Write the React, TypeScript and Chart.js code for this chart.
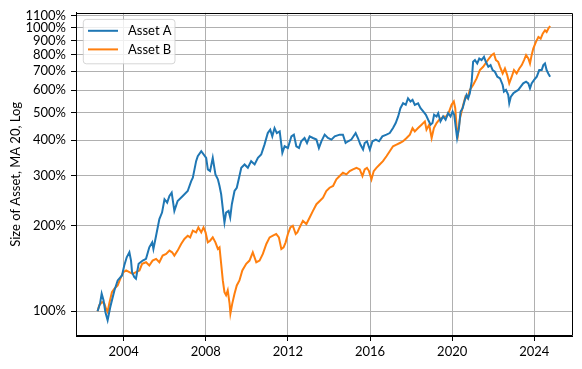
import React, { useEffect, useRef } from "react";
import { Chart, registerables } from "chart.js";

Chart.register(...registerables);

const seriesNames = ["Asset A", "Asset B"];
const seriesColors = ["#1f77b4", "#ff7f0e"];
const yAxisTitle = "Size of Asset, MA 20, Log";
const xTickYears = [2004, 2008, 2012, 2016, 2020, 2024];
const yTickValues = [100, 200, 300, 400, 500, 600, 700, 800, 900, 1000, 1100];

const yearsA = [
  2002.73, 2002.85, 2002.93, 2003.02, 2003.11, 2003.22, 2003.35, 2003.55, 2003.71, 2003.92,
  2004.03, 2004.15, 2004.28, 2004.36, 2004.41, 2004.52, 2004.6, 2004.73, 2004.93, 2005.09,
  2005.25, 2005.39, 2005.45, 2005.58, 2005.74, 2005.87, 2005.99, 2006.12, 2006.23, 2006.34,
  2006.47, 2006.63, 2006.88, 2007.12, 2007.29, 2007.37, 2007.53, 2007.61, 2007.78, 2008.02,
  2008.1, 2008.21, 2008.34, 2008.47, 2008.59, 2008.67, 2008.75, 2008.86, 2008.91, 2008.99,
  2009.11, 2009.19, 2009.27, 2009.4, 2009.51, 2009.64, 2009.73, 2009.89, 2010.05, 2010.21,
  2010.38, 2010.54, 2010.7, 2010.86, 2011.02, 2011.14, 2011.24, 2011.35, 2011.46, 2011.6,
  2011.73, 2011.84, 2012.0, 2012.17, 2012.29, 2012.41, 2012.54, 2012.65, 2012.81, 2012.93,
  2013.06, 2013.22, 2013.39, 2013.51, 2013.63, 2013.79, 2013.95, 2014.12, 2014.28, 2014.52,
  2014.68, 2014.81, 2014.93, 2015.09, 2015.3, 2015.41, 2015.53, 2015.66, 2015.74, 2015.85,
  2015.99, 2016.12, 2016.28, 2016.44, 2016.6, 2016.8, 2016.96, 2017.12, 2017.25, 2017.37,
  2017.48, 2017.61, 2017.74, 2017.85, 2017.97, 2018.07, 2018.18, 2018.34, 2018.46, 2018.59,
  2018.72, 2018.83, 2018.95, 2019.04, 2019.12, 2019.24, 2019.32, 2019.43, 2019.56, 2019.68,
  2019.8, 2019.92, 2020.02, 2020.1, 2020.18, 2020.24, 2020.33, 2020.41, 2020.51, 2020.62,
  2020.7, 2020.78, 2020.86, 2020.95, 2021.02, 2021.11, 2021.22, 2021.32, 2021.43, 2021.55,
  2021.64, 2021.76, 2021.87, 2021.97, 2022.08, 2022.2, 2022.33, 2022.46, 2022.52, 2022.62,
  2022.73, 2022.78, 2022.86, 2022.98, 2023.09, 2023.22, 2023.34, 2023.46, 2023.6, 2023.71,
  2023.79, 2023.87, 2023.99, 2024.12, 2024.24, 2024.36, 2024.44, 2024.52, 2024.6, 2024.68,
  2024.77,
];

const valuesA = [
  100, 106.4, 115.3, 109.3, 99.4, 93.0, 103.5, 118.4, 128.4, 133.7,
  144.9, 154.9, 161.3, 150.8, 137.3, 131.8, 130.2, 146.9, 150.8, 152.9,
  167.9, 174.8, 165.7, 184.5, 211.1, 222.6, 248.0, 241.3, 254.7, 261.6,
  225.7, 244.6, 254.7, 265.2, 287.4, 295.2, 337.7, 351.6, 366.0, 346.8,
  315.9, 311.6, 346.8, 303.4, 291.4, 276.1, 258.2, 219.8, 205.4, 222.6,
  225.7, 213.8, 238.2, 265.2, 272.3, 299.3, 320.0, 328.8, 320.0, 337.7,
  328.8, 346.8, 356.4, 386.3, 424.2, 436.0, 413.1, 441.7, 424.2, 430.1,
  361.1, 381.1, 375.9, 413.1, 418.8, 381.1, 375.9, 396.8, 407.5, 391.4,
  413.1, 407.5, 402.3, 375.9, 396.8, 418.8, 407.5, 402.3, 413.1, 418.8,
  418.8, 391.4, 396.8, 402.3, 424.2, 407.5, 386.3, 371.1, 391.4, 396.8,
  371.1, 396.8, 402.3, 396.8, 413.1, 418.8, 424.2, 441.7, 459.9, 485.3,
  518.9, 540.3, 533.3, 562.5, 547.7, 555.3, 533.3, 540.3, 518.9, 505.3,
  492.0, 472.6, 453.9, 459.9, 492.0, 485.3, 498.4, 466.2, 485.3, 472.6,
  498.4, 485.3, 505.3, 492.0, 441.7, 407.5, 441.7, 505.3, 518.9, 555.3,
  578.1, 562.5, 585.6, 643.5, 756.1, 766.5, 745.8, 776.5, 766.5, 787.2,
  756.1, 726.2, 736.2, 707.2, 697.6, 670.0, 660.9, 626.6, 593.7, 601.9,
  578.1, 540.3, 570.3, 585.6, 593.7, 601.9, 618.1, 634.8, 643.5, 634.8,
  609.7, 634.8, 652.4, 670.0, 707.2, 707.2, 736.2, 745.8, 707.2, 688.1,
  670.0,
];

const yearsB = [
  2002.73, 2002.81, 2002.95, 2003.06, 2003.14, 2003.22, 2003.3, 2003.43, 2003.55, 2003.71,
  2003.87, 2003.99, 2004.12, 2004.28, 2004.44, 2004.6, 2004.77, 2004.9, 2005.09, 2005.25,
  2005.41, 2005.58, 2005.74, 2005.9, 2006.07, 2006.23, 2006.36, 2006.47, 2006.63, 2006.8,
  2006.96, 2007.12, 2007.24, 2007.37, 2007.53, 2007.64, 2007.78, 2007.89, 2007.99, 2008.1,
  2008.21, 2008.34, 2008.47, 2008.59, 2008.67, 2008.75, 2008.83, 2008.91, 2008.99, 2009.07,
  2009.16, 2009.2, 2009.29, 2009.4, 2009.51, 2009.64, 2009.78, 2009.97, 2010.13, 2010.29,
  2010.46, 2010.62, 2010.78, 2010.95, 2011.11, 2011.27, 2011.43, 2011.56, 2011.68, 2011.79,
  2011.89, 2012.0, 2012.12, 2012.24, 2012.38, 2012.46, 2012.57, 2012.73, 2012.9, 2013.06,
  2013.22, 2013.39, 2013.55, 2013.71, 2013.87, 2014.03, 2014.2, 2014.36, 2014.52, 2014.68,
  2014.85, 2015.01, 2015.17, 2015.34, 2015.5, 2015.63, 2015.74, 2015.85, 2015.95, 2016.07,
  2016.18, 2016.31, 2016.47, 2016.63, 2016.8, 2016.96, 2017.12, 2017.29, 2017.45, 2017.61,
  2017.78, 2017.94, 2018.07, 2018.18, 2018.34, 2018.51, 2018.67, 2018.75, 2018.88, 2019.0,
  2019.11, 2019.24, 2019.37, 2019.48, 2019.6, 2019.73, 2019.85, 2019.97, 2020.08, 2020.15,
  2020.22, 2020.28, 2020.38, 2020.46, 2020.54, 2020.65, 2020.75, 2020.86, 2021.02, 2021.19,
  2021.35, 2021.51, 2021.68, 2021.79, 2021.92, 2022.03, 2022.13, 2022.24, 2022.33, 2022.46,
  2022.57, 2022.68, 2022.78, 2022.9, 2023.01, 2023.14, 2023.27, 2023.39, 2023.5, 2023.6,
  2023.71, 2023.79, 2023.87, 2023.95, 2024.08, 2024.2, 2024.31, 2024.41, 2024.52, 2024.6,
  2024.68, 2024.77,
];

const valuesB = [
  100, 105.0, 107.8, 106.4, 102.2, 99.4, 106.4, 116.8, 120.1, 123.3,
  131.8, 137.3, 139.2, 137.3, 135.5, 137.3, 139.2, 146.9, 148.8, 144.9,
  150.8, 152.9, 148.8, 157.0, 159.2, 163.5, 161.3, 157.0, 163.5, 172.6,
  179.7, 184.5, 182.0, 192.1, 189.5, 197.3, 189.5, 197.3, 189.5, 174.8,
  177.2, 182.0, 174.8, 165.7, 167.9, 146.9, 128.4, 116.8, 113.8, 118.4,
  106.4, 98.2, 106.4, 115.3, 123.3, 128.4, 139.2, 146.9, 150.8, 161.3,
  148.8, 150.8, 159.2, 172.6, 182.0, 184.5, 187.1, 182.0, 165.7, 167.9,
  174.8, 187.1, 197.3, 200.0, 187.1, 189.5, 197.3, 208.2, 202.8, 213.8,
  225.7, 238.2, 244.6, 251.2, 265.2, 272.3, 276.1, 291.4, 299.3, 307.3,
  303.4, 311.6, 315.9, 320.0, 315.9, 299.3, 315.9, 320.0, 311.6, 291.4,
  311.6, 320.0, 328.8, 337.7, 351.6, 366.0, 381.1, 386.3, 391.4, 396.8,
  407.5, 418.8, 441.7, 430.1, 441.7, 453.9, 466.2, 436.0, 453.9, 407.5,
  441.7, 459.9, 472.6, 478.7, 485.3, 485.3, 505.3, 533.3, 547.7, 518.9,
  441.7, 418.8, 478.7, 505.3, 533.3, 570.3, 562.5, 601.9, 626.6, 660.9,
  707.2, 726.2, 756.1, 776.5, 798.0, 808.4, 766.5, 756.1, 726.2, 688.1,
  716.3, 679.2, 634.8, 670.0, 707.2, 688.1, 716.3, 736.2, 766.5, 798.0,
  776.5, 745.8, 798.0, 841.6, 888.4, 924.9, 912.3, 949.8, 976.2, 962.9,
  989.0, 1010.7,
];

const FONT = "Lato, 'DejaVu Sans', sans-serif";

function toPoints(xs: number[], ys: number[]) {
  const n = Math.min(xs.length, ys.length);
  const out: { x: number; y: number }[] = [];
  for (let i = 0; i < n; i++) out.push({ x: xs[i], y: ys[i] });
  return out;
}

const frameAndLegend = {
  id: "frameAndLegend",
  afterDatasetsDraw(chart: any) {
    const ctx = chart.ctx as CanvasRenderingContext2D;
    const { left, top, right, bottom } = chart.chartArea;
    ctx.save();
    // spines (all four sides)
    ctx.strokeStyle = "#000";
    ctx.lineWidth = 1;
    ctx.beginPath();
    const l = Math.round(left) + 0.5;
    const t = Math.round(top) + 0.5;
    const r = Math.round(right) - 0.5;
    const b = Math.round(bottom) - 0.5;
    ctx.moveTo(l, t);
    ctx.lineTo(r, t);
    ctx.lineTo(r, b);
    ctx.lineTo(l, b);
    ctx.closePath();
    ctx.stroke();

    // legend box
    const bx = left + 7.3;
    const by = top + 6.6;
    const bw = 91.7;
    const bh = 44.4;
    ctx.beginPath();
    (ctx as any).roundRect(bx, by, bw, bh, 3);
    ctx.fillStyle = "rgba(255,255,255,0.8)";
    ctx.fill();
    ctx.strokeStyle = "rgba(204,204,204,0.8)";
    ctx.lineWidth = 1;
    ctx.stroke();

    ctx.font = `13px ${FONT}`;
    ctx.textBaseline = "middle";
    ctx.textAlign = "left";
    seriesNames.forEach((name, i) => {
      const ly = top + 18 + i * 18.6;
      ctx.strokeStyle = seriesColors[i];
      ctx.lineWidth = 2;
      ctx.beginPath();
      ctx.moveTo(left + 12, ly);
      ctx.lineTo(left + 42, ly);
      ctx.stroke();
      ctx.fillStyle = "#000";
      ctx.fillText(name, left + 52, ly);
    });
    ctx.restore();
  },
};

export default function App() {
  const canvasRef = useRef<HTMLCanvasElement | null>(null);

  useEffect(() => {
    document.body.style.margin = "0";
    const canvas = canvasRef.current;
    if (!canvas) return;
    const chart = new Chart(canvas, {
      type: "line",
      data: {
        datasets: [
          {
            label: seriesNames[0],
            data: toPoints(yearsA, valuesA),
            borderColor: seriesColors[0],
            backgroundColor: seriesColors[0],
            borderWidth: 2,
            pointRadius: 0,
            tension: 0,
            fill: false,
          },
          {
            label: seriesNames[1],
            data: toPoints(yearsB, valuesB),
            borderColor: seriesColors[1],
            backgroundColor: seriesColors[1],
            borderWidth: 2,
            pointRadius: 0,
            tension: 0,
            fill: false,
          },
        ],
      },
      options: {
        responsive: false,
        animation: false,
        devicePixelRatio: 1,
        layout: { padding: { top: 10.7, right: 9.3, left: 0, bottom: 0 } },
        plugins: {
          legend: { display: false },
          tooltip: { enabled: false },
        },
        scales: {
          x: {
            type: "linear",
            min: 2001.68,
            max: 2025.87,
            afterBuildTicks: (s: any) => {
              s.ticks = xTickYears.map((v) => ({ value: v }));
            },
            afterFit: (s: any) => {
              s.height = 33;
            },
            grid: {
              color: "#b0b0b0",
              lineWidth: 1,
              tickColor: "#000",
              tickLength: 5,
              tickWidth: 1,
            },
            border: { color: "#000", width: 1 },
            ticks: {
              color: "#000",
              font: { family: FONT, size: 13 },
              padding: 3,
              maxRotation: 0,
              autoSkip: false,
              callback: (v: any) => String(v),
            },
          },
          y: {
            type: "logarithmic",
            min: 81.8,
            max: 1125,
            afterBuildTicks: (s: any) => {
              s.ticks = yTickValues.map((v) => ({ value: v }));
            },
            afterFit: (s: any) => {
              s.width = 76;
            },
            grid: {
              color: "#b0b0b0",
              lineWidth: 1,
              tickColor: "#000",
              tickLength: 5,
              tickWidth: 1,
            },
            border: { color: "#000", width: 1 },
            ticks: {
              color: "#000",
              font: { family: FONT, size: 13 },
              padding: 5,
              autoSkip: false,
              callback: (v: any) => `${v}%`,
            },
            title: {
              display: true,
              text: yAxisTitle,
              color: "#000",
              font: { family: FONT, size: 13 },
              padding: { top: 8, bottom: 0 },
            },
          },
        },
      },
      plugins: [frameAndLegend],
    });
    return () => chart.destroy();
  }, []);

  return (
    <div style={{ width: 582, height: 369 }}>
      <canvas ref={canvasRef} width={582} height={369} style={{ display: "block", width: 582, height: 369 }} />
    </div>
  );
}
